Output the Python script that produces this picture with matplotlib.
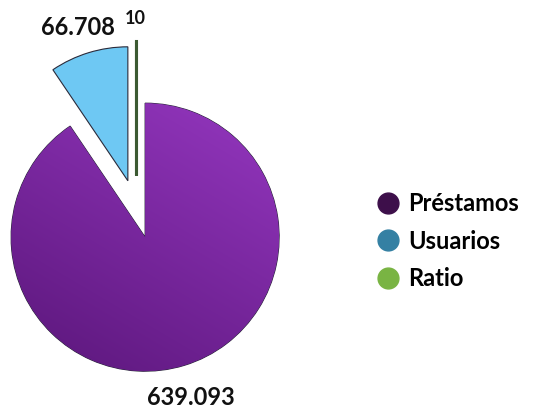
import numpy as np
import matplotlib
matplotlib.use("Agg")
import matplotlib.pyplot as plt
from matplotlib.lines import Line2D

categories = ["Préstamos", "Usuarios", "Ratio"]
values = [639093, 66708, 10]
legend_colors = ["#3d0f4a", "#3480a3", "#79b443"]
slice_colors = ["#8a2eb5", "#6ec8f3", "#3c5a32"]
explode = [0.22, 0.22, 0.25]

def fmt(v):
    return f"{v:,}".replace(",", ".")

W, H = 534, 415
fig = plt.figure(figsize=(W / 100, H / 100), dpi=100)
R = 134.0
cx, cy = 136.5, 209.0
ax = fig.add_axes([0, 0, 1, 1])

wedges, _ = ax.pie(values, colors=slice_colors, startangle=90, counterclock=False,
                   explode=explode, radius=1.0,
                   wedgeprops=dict(linewidth=0.8, edgecolor="#2a2a3a"))
ax.set_aspect("auto")
ax.axis("off")

# gradient shading for the main slice
w0 = wedges[0]
xs = np.linspace(-1.4, 1.6, 300)
ys = np.linspace(-1.6, 1.4, 300)
X, Y = np.meshgrid(xs, ys)
t = np.clip(0.5 + 0.35 * (X * 0.5 + Y * 0.85), 0, 1)
c_dark = np.array([0x5c, 0x17, 0x7c]) / 255
c_light = np.array([0x9a, 0x3a, 0xc6]) / 255
img = c_dark[None, None, :] * (1 - t[..., None]) + c_light[None, None, :] * t[..., None]
im = ax.imshow(img, extent=(xs[0], xs[-1], ys[0], ys[-1]), origin="lower",
               zorder=w0.get_zorder() + 0.1, interpolation="bilinear")
im.set_clip_path(w0)
ax.set_xlim(-cx / R, (W - cx) / R)
ax.set_ylim(-(H - cy) / R, cy / R)
ax.set_aspect("auto")

wedges[2].set_linewidth(2.2)
wedges[2].set_edgecolor(slice_colors[2])

def px(x, y):
    return ((x - cx) / R, (cy - y) / R)

font = "Lato"
ax.text(*px(78, 28), fmt(values[1]), ha="center", va="center", fontsize=17,
        fontweight="bold", family=font, color="#111111")
ax.text(*px(135, 19), fmt(values[2]), ha="center", va="center", fontsize=13,
        fontweight="bold", family=font, color="#111111")
ax.text(*px(191, 397), fmt(values[0]), ha="center", va="center", fontsize=17,
        fontweight="bold", family=font, color="#111111")

handles = [Line2D([], [], marker="o", linestyle="none", markersize=15,
                  markerfacecolor=c, markeredgecolor=c) for c in legend_colors]
fig.legend(handles, categories, loc="center left", bbox_to_anchor=(363 / W, 1 - 241 / H),
           frameon=False, prop=dict(family=font, weight="bold", size=17),
           handletextpad=0.3, labelspacing=0.62, handlelength=1.1, borderpad=0)

fig.savefig("out.png", dpi=100)
